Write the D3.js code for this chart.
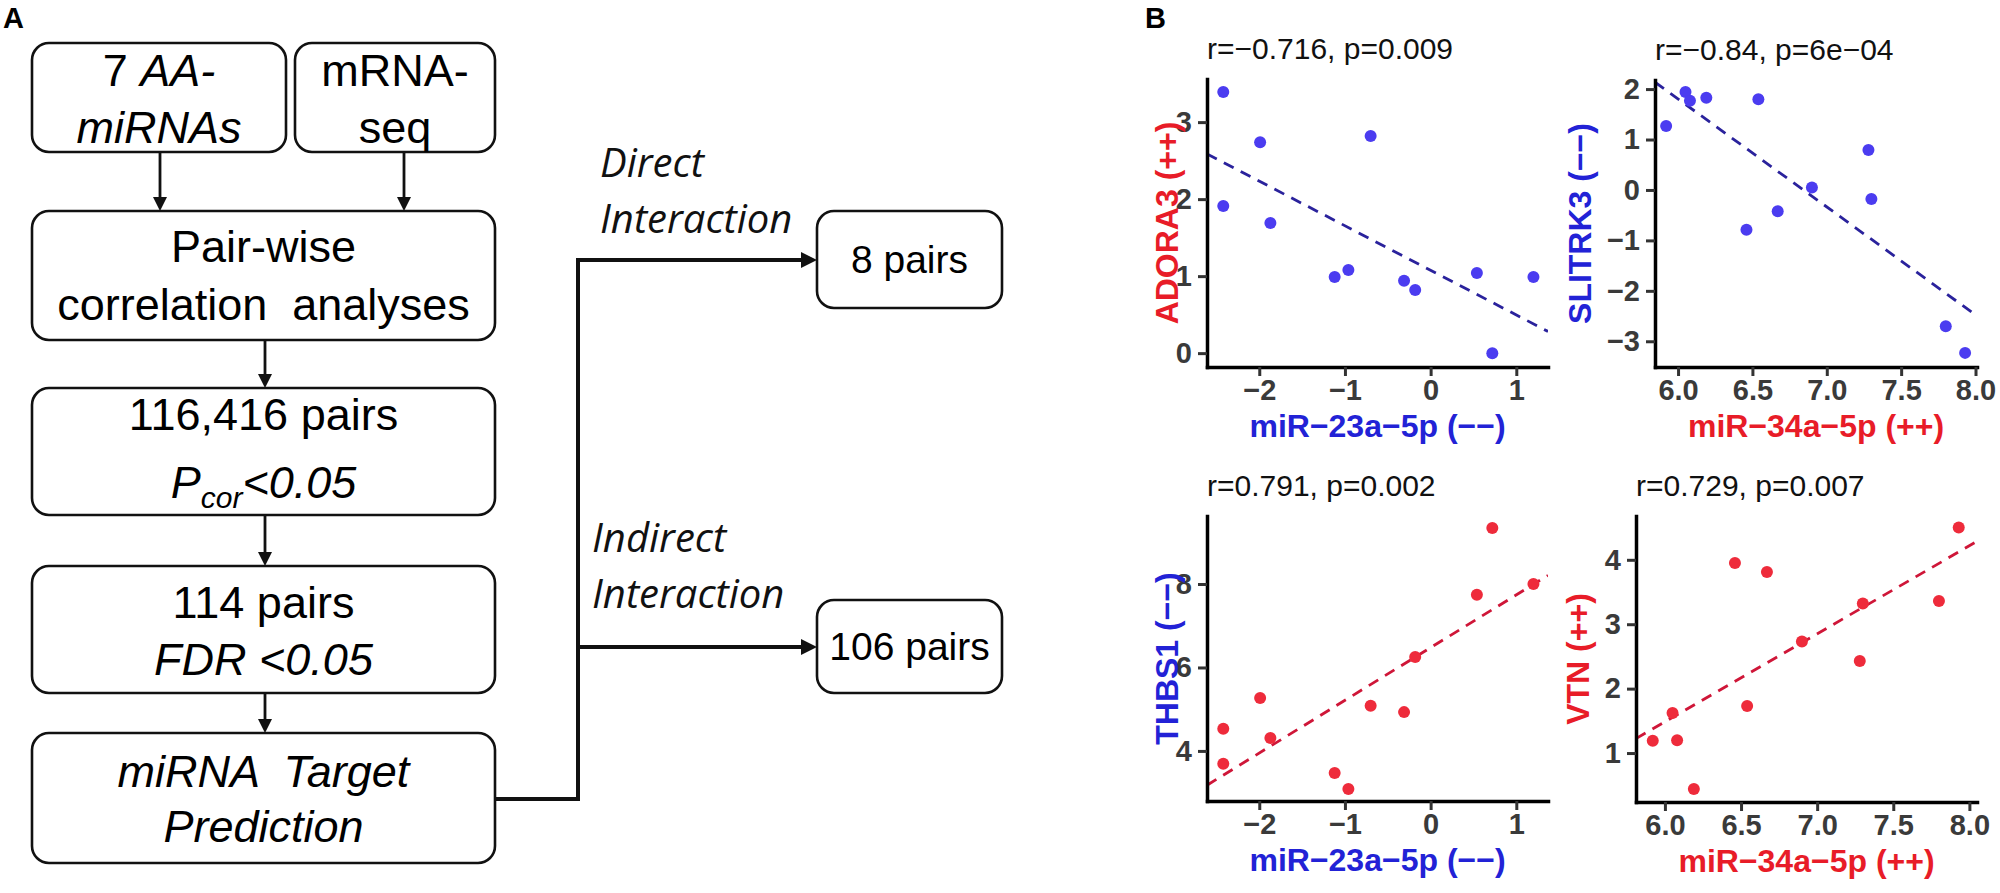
<!DOCTYPE html>
<html>
<head>
<meta charset="utf-8">
<script src="https://cdn.jsdelivr.net/npm/d3@7"></script>
<style>
  body { margin: 0; background: #fff; }
  svg { display: block; }
</style>
</head>
<body>
<script>
// values, 12 samples, same sample order in every array
const mir23 = [-2.42, -2.42, -1.99, -1.87, -1.12, -0.96, -0.70, -0.31, -0.18, 0.54, 0.72, 1.20];
const adora3 = [3.39, 1.91, 2.74, 1.69, 0.99, 1.08, 2.82, 0.94, 0.82, 1.04, 0.00, 0.99];
const thbs1 = [4.53, 3.69, 5.27, 4.31, 3.47, 3.09, 5.08, 4.93, 6.25, 7.74, 9.34, 8.00];
const mir34 = [5.92, 6.05, 6.08, 6.19, 6.46, 6.54, 6.67, 6.90, 7.28, 7.30, 7.80, 7.93];
const slitrk3 = [1.27, 1.94, 1.77, 1.83, -0.79, 1.80, -0.42, 0.05, 0.79, -0.18, -2.70, -3.23];
const vtn = [1.19, 1.62, 1.20, 0.44, 3.95, 1.73, 3.81, 2.73, 2.43, 3.32, 3.36, 4.50];

const statLabels = ["r=\u22120.716, p=0.009", "r=\u22120.84, p=6e\u221204", "r=0.791, p=0.002", "r=0.729, p=0.007"];
const xTitles = ["miR\u221223a\u22125p (\u2212\u2212)", "miR\u221234a\u22125p (++)", "miR\u221223a\u22125p (\u2212\u2212)", "miR\u221234a\u22125p (++)"];
const yTitles = ["ADORA3 (++)", "SLITRK3 (\u2212\u2212)", "THBS1 (\u2212\u2212)", "VTN (++)"];
const ticks23 = [-2, -1, 0, 1];
const ticks34 = [6.0, 6.5, 7.0, 7.5, 8.0];
const ticksAdora = [0, 1, 2, 3];
const ticksSlitrk = [-3, -2, -1, 0, 1, 2];
const ticksThbs = [4, 6, 8];
const ticksVtn = [1, 2, 3, 4];

// flowchart text (panel A)
const flowText = [
  [[["7 ", false], ["AA-", true]], [["miRNAs", true]]],
  [[["mRNA-", false]], [["seq", false]]],
  [[["Pair-wise", false]], [["correlation  analyses", false]]],
  [[["116,416 pairs", false]], "pcor"],
  [[["114 pairs", false]], [["FDR <0.05", true]]],
  [[["miRNA  Target", true]], [["Prediction", true]]],
  [[["8 pairs", false]]],
  [[["106 pairs", false]]]
];
const branchLabels = [["Direct", "Interaction"], ["Indirect", "Interaction"]];

const blue = "#4b3cf0", navy = "#2a229c", red = "#ee2b3b", darkRed = "#cf1638";
const blueText = "#2222d6", redText = "#e81c28";
const sans = "'Liberation Sans', Arial, sans-serif";

const svg = d3.select("body").append("svg")
  .attr("width", 2000).attr("height", 893)
  .attr("xmlns", "http://www.w3.org/2000/svg");

// ---------- panel A: flowchart ----------
svg.append("text").attr("x", 3).attr("y", 28).text("A")
  .attr("font-family", sans).attr("font-weight", "bold").attr("font-size", 29);

const boxes = [
  { x: 32, y: 43, w: 254, h: 109, base: [86, 143], fs: 45 },
  { x: 295, y: 43, w: 200, h: 109, base: [86, 143], fs: 45 },
  { x: 32, y: 211, w: 463, h: 129, base: [262, 320], fs: 45 },
  { x: 32, y: 388, w: 463, h: 127, base: [430, 498], fs: 45 },
  { x: 32, y: 566, w: 463, h: 127, base: [618, 675], fs: 45 },
  { x: 32, y: 733, w: 463, h: 130, base: [787, 842], fs: 45 },
  { x: 817, y: 211, w: 185, h: 97, base: [273], fs: 39 },
  { x: 817, y: 600, w: 185, h: 93, base: [660], fs: 39 }
];

const flow = svg.append("g").attr("font-family", sans);

boxes.forEach(function (b, i) {
  flow.append("rect")
    .attr("x", b.x).attr("y", b.y).attr("width", b.w).attr("height", b.h)
    .attr("rx", 17).attr("fill", "none").attr("stroke", "#111").attr("stroke-width", 2.6);
  flowText[i].forEach(function (line, j) {
    const t = flow.append("text")
      .attr("x", b.x + b.w / 2).attr("y", b.base[j]).attr("font-size", b.fs)
      .attr("text-anchor", "middle").attr("xml:space", "preserve");
    if (line === "pcor") {
      t.append("tspan").attr("font-style", "italic").text("P");
      t.append("tspan").attr("font-style", "italic").attr("font-size", 30).attr("dy", 10).text("cor");
      t.append("tspan").attr("font-style", "italic").attr("dy", -10).text("<0.05");
    } else {
      line.forEach(function (part) {
        t.append("tspan").attr("font-style", part[1] ? "italic" : "normal").text(part[0]);
      });
    }
  });
});

function arrowDown(x, y0, y1) {
  flow.append("line").attr("x1", x).attr("x2", x).attr("y1", y0).attr("y2", y1 - 12)
    .attr("stroke", "#111").attr("stroke-width", 2.8);
  flow.append("path").attr("d", `M${x - 7},${y1 - 14} L${x + 7},${y1 - 14} L${x},${y1} Z`).attr("fill", "#111");
}
arrowDown(160, 152, 211);
arrowDown(404, 152, 211);
arrowDown(265, 340, 388);
arrowDown(265, 515, 566);
arrowDown(265, 693, 733);

// branch connector
flow.append("path").attr("d", "M495,799 H578 V260 H803 M578,647 H803")
  .attr("fill", "none").attr("stroke", "#111").attr("stroke-width", 4);
[260, 647].forEach(function (y) {
  flow.append("path").attr("d", `M801,${y - 8} L817,${y} L801,${y + 8} Z`).attr("fill", "#111");
});

const labelPos = [[600, [177, 233]], [592, [552, 608]]];
branchLabels.forEach(function (lines, i) {
  lines.forEach(function (s, j) {
    svg.append("text").attr("x", labelPos[i][0]).attr("y", labelPos[i][1][j])
      .attr("font-family", "'Open Sans', 'Noto Sans', sans-serif").attr("font-style", "italic")
      .attr("font-size", 40).attr("fill", "#111").text(s);
  });
});

// ---------- panel B: scatter plots ----------
svg.append("text").attr("x", 1145).attr("y", 28).text("B")
  .attr("font-family", sans).attr("font-weight", "bold").attr("font-size", 29);

const panels = [
  { xs: mir23, ys: adora3, x0: 1207, x1: 1548, y0: 367, y1: 79, xd: [-2.61, 1.37], yd: [-0.18, 3.56],
    xt: ticks23, yt: ticksAdora, xf: d3.format("d"), pt: blue, ln: navy, xc: blueText, yc: redText, ylx: 1167 },
  { xs: mir34, ys: slitrk3, x0: 1655, x1: 1977, y0: 367, y1: 80, xd: [5.845, 8.01], yd: [-3.51, 2.18],
    xt: ticks34, yt: ticksSlitrk, xf: d3.format(".1f"), pt: blue, ln: navy, xc: redText, yc: blueText, ylx: 1580 },
  { xs: mir23, ys: thbs1, x0: 1207, x1: 1548, y0: 801, y1: 516, xd: [-2.61, 1.37], yd: [2.80, 9.63],
    xt: ticks23, yt: ticksThbs, xf: d3.format("d"), pt: red, ln: darkRed, xc: blueText, yc: blueText, ylx: 1167 },
  { xs: mir34, ys: vtn, x0: 1636, x1: 1977, y0: 802, y1: 516, xd: [5.81, 8.05], yd: [0.24, 4.68],
    xt: ticks34, yt: ticksVtn, xf: d3.format(".1f"), pt: red, ln: darkRed, xc: redText, yc: redText, ylx: 1578 }
];

panels.forEach(function (p, i) {
  const x = d3.scaleLinear().domain(p.xd).range([p.x0, p.x1]);
  const y = d3.scaleLinear().domain(p.yd).range([p.y0, p.y1]);
  const g = svg.append("g");

  // least squares fit drawn across the whole panel
  const mx = d3.mean(p.xs), my = d3.mean(p.ys);
  const sxy = d3.sum(p.xs, (v, k) => (v - mx) * (p.ys[k] - my));
  const sxx = d3.sum(p.xs, v => (v - mx) * (v - mx));
  const slope = sxy / sxx, icpt = my - slope * mx;

  const clipId = "clip" + i;
  g.append("clipPath").attr("id", clipId).append("rect")
    .attr("x", p.x0).attr("y", p.y1).attr("width", p.x1 - p.x0).attr("height", p.y0 - p.y1);

  g.append("line").attr("clip-path", `url(#${clipId})`)
    .attr("x1", x(p.xd[0])).attr("y1", y(icpt + slope * p.xd[0]))
    .attr("x2", x(p.xd[1])).attr("y2", y(icpt + slope * p.xd[1]))
    .attr("stroke", p.ln).attr("stroke-width", 2.8).attr("stroke-dasharray", "11,8");

  g.selectAll("circle").data(p.xs).enter().append("circle")
    .attr("cx", d => x(d)).attr("cy", (d, k) => y(p.ys[k]))
    .attr("r", 6).attr("fill", p.pt);

  const xAxis = g.append("g").attr("transform", `translate(0,${p.y0})`)
    .call(d3.axisBottom(x).tickValues(p.xt).tickFormat(p.xf).tickSize(9).tickPadding(3).tickSizeOuter(0));
  const yAxis = g.append("g").attr("transform", `translate(${p.x0},0)`)
    .call(d3.axisLeft(y).tickValues(p.yt).tickFormat(d3.format("d")).tickSize(9).tickPadding(6).tickSizeOuter(0));

  [xAxis, yAxis].forEach(function (a) {
    a.select(".domain").attr("stroke", "#000").attr("stroke-width", 3.5).attr("stroke-linecap", "square");
    a.selectAll(".tick line").attr("stroke", "#333").attr("stroke-width", 3);
    a.selectAll(".tick text").attr("font-family", sans).attr("font-size", 29)
      .attr("font-weight", "bold").attr("fill", "#3a3a3a");
  });

  g.append("text").attr("x", p.x0).attr("y", p.y1 - 20).text(statLabels[i])
    .attr("font-family", sans).attr("font-size", 30).attr("fill", "#111");

  g.append("text").attr("x", (p.x0 + p.x1) / 2).attr("y", p.y0 + 70).text(xTitles[i])
    .attr("text-anchor", "middle").attr("font-family", sans).attr("font-size", 32)
    .attr("font-weight", "bold").attr("fill", p.xc);

  g.append("text").attr("transform", `translate(${p.ylx},${(p.y0 + p.y1) / 2}) rotate(-90)`)
    .attr("dy", "0.35em").text(yTitles[i])
    .attr("text-anchor", "middle").attr("font-family", sans).attr("font-size", 32)
    .attr("font-weight", "bold").attr("fill", p.yc);
});
</script>
</body>
</html>
